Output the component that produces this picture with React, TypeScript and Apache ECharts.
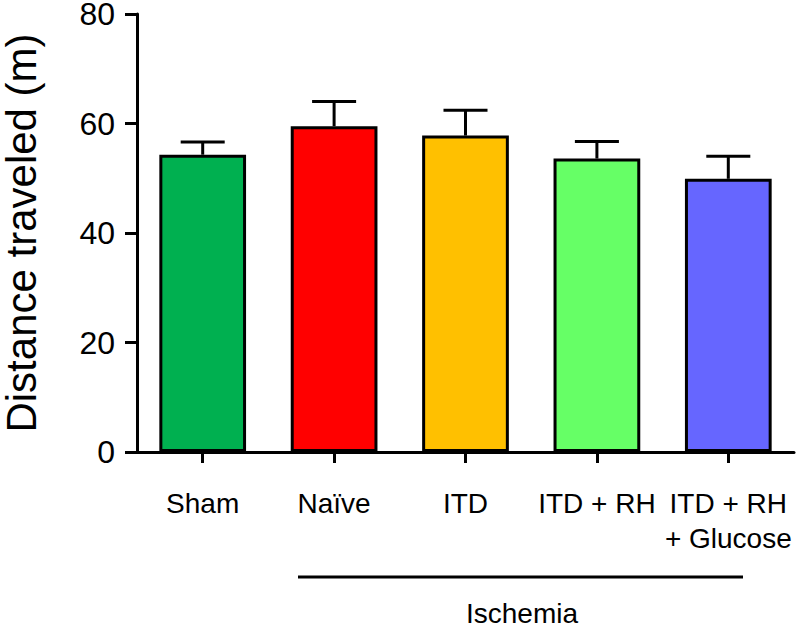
import React, { useEffect, useRef } from "react";
import * as echarts from "echarts";

const categories = ["Sham", "Naïve", "ITD", "ITD + RH", "ITD + RH\n+ Glucose"];
const means = [54.3, 59.5, 57.8, 53.6, 49.9];
const sems = [2.3, 4.5, 4.6, 3.1, 4.1];
const colors = ["#00B050", "#FF0000", "#FFC000", "#66FF66", "#6666FF"];
const yTicks = [0, 20, 40, 60, 80];
const groupLabel = "Ischemia";
const yTitle = "Distance traveled (m)";

const FONT = "'Liberation Sans', Arial, Helvetica, sans-serif";

export default function App() {
  const ref = useRef<HTMLDivElement>(null);
  useEffect(() => {
    if (!ref.current) return;
    const chart = echarts.init(ref.current, null, { renderer: "svg" });
    const errData = means.map((m, i) => [i, m, m + sems[i]]);
    chart.setOption({
      animation: false,
      backgroundColor: "#ffffff",
      grid: {
        left: 137,
        right: 4,
        top: 14,
        bottom: 175,
        containLabel: false,
        outerBoundsMode: "none",
      },
      xAxis: {
        type: "category",
        data: categories,
        axisLine: { show: true, lineStyle: { color: "#000", width: 3 } },
        axisTick: { show: true, alignWithLabel: true, length: 11, lineStyle: { color: "#000", width: 3 } },
        axisLabel: {
          interval: 0,
          color: "#000",
          fontFamily: FONT,
          fontSize: 28,
          lineHeight: 35,
          margin: 34,
        },
      },
      yAxis: {
        type: "value",
        min: yTicks[0],
        max: yTicks[yTicks.length - 1],
        interval: 20,
        name: yTitle,
        nameLocation: "middle",
        nameRotate: 90,
        nameGap: 95,
        nameTextStyle: { color: "#000", fontFamily: FONT, fontSize: 42 },
        splitLine: { show: false },
        axisLine: { show: true, lineStyle: { color: "#000", width: 3 } },
        axisTick: { show: true, length: 12, lineStyle: { color: "#000", width: 3 } },
        axisLabel: { color: "#000", fontFamily: FONT, fontSize: 32, margin: 22 },
      },
      series: [
        {
          type: "bar",
          barWidth: "66%",
          data: means.map((v, i) => ({
            value: v,
            itemStyle: { color: colors[i], borderColor: "#000", borderWidth: 3 },
          })),
          z: 2,
        },
        {
          type: "custom",
          data: errData,
          z: 3,
          renderItem: (params: any, api: any) => {
            const x = api.value(0);
            const base = api.coord([x, api.value(1)]);
            const top = api.coord([x, api.value(2)]);
            const w = api.size([1, 0])[0] * 0.335;
            return {
              type: "group",
              children: [
                {
                  type: "line",
                  shape: { x1: top[0], y1: base[1], x2: top[0], y2: top[1] },
                  style: { stroke: "#000", lineWidth: 3 },
                },
                {
                  type: "line",
                  shape: { x1: top[0] - w / 2, y1: top[1], x2: top[0] + w / 2, y2: top[1] },
                  style: { stroke: "#000", lineWidth: 3 },
                },
              ],
            };
          },
        },
      ],
      graphic: [
        {
          type: "line",
          shape: { x1: 298, y1: 577, x2: 743, y2: 577 },
          style: { stroke: "#000", lineWidth: 3 },
        },
        {
          type: "text",
          x: 522,
          y: 613,
          style: {
            text: groupLabel,
            fill: "#000",
            font: `28px ${FONT}`,
            align: "center",
            verticalAlign: "middle",
          },
        },
      ],
    });
    return () => chart.dispose();
  }, []);
  return (
    <div
      ref={ref}
      style={{ position: "fixed", left: 0, top: 0, width: 798, height: 627, background: "#fff" }}
    />
  );
}
